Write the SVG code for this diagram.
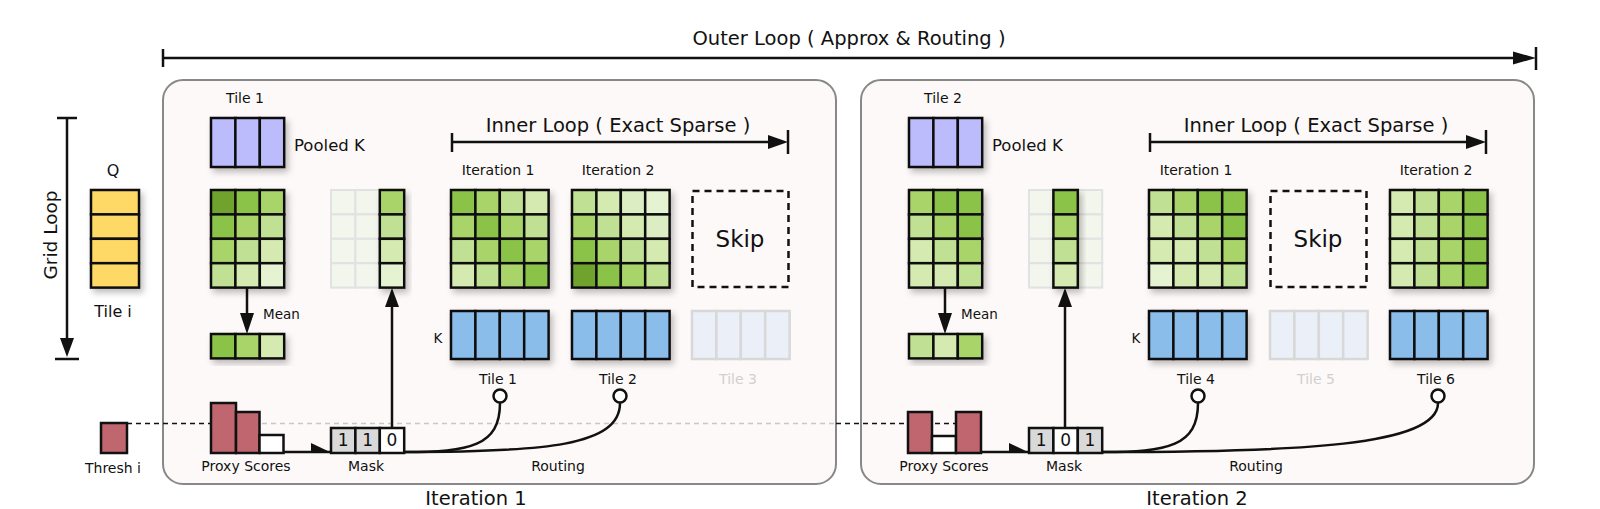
<svg xmlns="http://www.w3.org/2000/svg" width="1600" height="509" viewBox="0 0 1600 509">
<defs>
<filter id="sh" x="-20%" y="-20%" width="150%" height="150%"><feDropShadow dx="3" dy="4" stdDeviation="3" flood-color="#000" flood-opacity="0.25"/></filter>
<style>
.t{font-family:"DejaVu Sans",Verdana,sans-serif;fill:#111}
.big{font-size:19.5px}
.sm{font-size:14px}
.c rect{stroke:#111;stroke-width:2.5}
.g0{fill:#e6f3d3}.g1{fill:#d4eab0}.g2{fill:#c0e093}.g3{fill:#a8d46a}.g4{fill:#8bc34a}.g5{fill:#6fa32d}
.blue{fill:#8bbdeb}.lav{fill:#bcbcfc}.yel{fill:#ffd966}.red{fill:#c0666f}
.fd rect{fill:#f3f6ec;stroke:#e2e2e2;stroke-width:2}
.fk rect{fill:#ebf0f8;stroke:#d8d8d8;stroke-width:2.5}
.ln{stroke:#111;stroke-width:2.5;fill:none}
.panel{fill:#fdf9f8;stroke:#888;stroke-width:2}
</style>
</defs>
<rect width="1600" height="509" fill="#fff"/>

<!-- panels -->
<g id="panel1"><rect class="panel" x="163" y="80" width="673" height="404" rx="20"/></g>
<g id="panel2"><rect class="panel" x="861" y="80" width="673" height="404" rx="20"/></g>

<!-- titles -->
<g id="outer-loop">
<text class="t big" x="849" y="45" text-anchor="middle">Outer Loop ( Approx &amp; Routing )</text>
</g>
<g id="grid-loop">
<text class="t" font-size="18.5" transform="translate(57,235) rotate(-90)" text-anchor="middle">Grid Loop</text>
</g>

<!-- connectors -->
<g id="connectors">
<!-- outer loop -->
<line class="ln" x1="163" y1="58" x2="1520" y2="58"/>
<line class="ln" x1="163" y1="49" x2="163" y2="67"/>
<line class="ln" x1="1536" y1="47" x2="1536" y2="70"/>
<polygon points="1513,51.5 1536,58 1513,64.5" fill="#111"/>
<!-- grid loop -->
<line class="ln" x1="67" y1="118" x2="67" y2="342"/>
<line class="ln" x1="57" y1="118" x2="77" y2="118"/>
<line class="ln" x1="55" y1="359" x2="79" y2="359"/>
<polygon points="60,338 74,338 67,357" fill="#111"/>
<!-- inner loops -->
<g id="inner1">
<line class="ln" x1="452" y1="142" x2="772" y2="142"/>
<line class="ln" x1="452" y1="133" x2="452" y2="152"/>
<line class="ln" x1="788" y1="130" x2="788" y2="154"/>
<polygon points="768,135 788,142 768,149" fill="#111"/>
</g>
<g id="inner2" transform="translate(698,0)">
<line class="ln" x1="452" y1="142" x2="772" y2="142"/>
<line class="ln" x1="452" y1="133" x2="452" y2="152"/>
<line class="ln" x1="788" y1="130" x2="788" y2="154"/>
<polygon points="768,135 788,142 768,149" fill="#111"/>
</g>
<!-- threshold dashed lines -->
<line x1="127" y1="423.5" x2="259" y2="423.5" stroke="#111" stroke-width="1.5" stroke-dasharray="5,4"/>
<line x1="262" y1="423.5" x2="836" y2="423.5" stroke="#c8c8c8" stroke-width="1.5" stroke-dasharray="5,4"/>
<line x1="836" y1="423.5" x2="957" y2="423.5" stroke="#111" stroke-width="1.5" stroke-dasharray="5,4"/>
<!-- panel connectors -->
<g id="conn1">
<line class="ln" x1="247" y1="287" x2="247" y2="318"/>
<polygon points="240,313 254,313 247,334" fill="#111"/>
<line class="ln" x1="392" y1="428" x2="392" y2="302"/>
<polygon points="385,307 399,307 392,288" fill="#111"/>
<line class="ln" x1="283" y1="452" x2="331" y2="452"/>
<polygon points="311,443 331,452.5 311,452.5" fill="#111"/>
<path class="ln" d="M404,452 C470,452 500,446 500,403"/>
<path class="ln" d="M404,452 C545,452 620,446 620,403"/>
<circle cx="500" cy="396" r="6.5" fill="#fff" stroke="#111" stroke-width="2.5"/>
<circle cx="620" cy="396" r="6.5" fill="#fff" stroke="#111" stroke-width="2.5"/>
</g>
<g id="conn2" transform="translate(698,0)">
<line class="ln" x1="247" y1="287" x2="247" y2="318"/>
<polygon points="240,313 254,313 247,334" fill="#111"/>
<line class="ln" x1="367" y1="428" x2="367" y2="302"/>
<polygon points="360,307 374,307 367,288" fill="#111"/>
<line class="ln" x1="283" y1="452" x2="331" y2="452"/>
<polygon points="311,443 331,452.5 311,452.5" fill="#111"/>
<path class="ln" d="M404,452 C470,452 500,446 500,403"/>
<path class="ln" d="M404,452 C600,452 740,446 740,403"/>
<circle cx="500" cy="396" r="6.5" fill="#fff" stroke="#111" stroke-width="2.5"/>
<circle cx="740" cy="396" r="6.5" fill="#fff" stroke="#111" stroke-width="2.5"/>
</g>
</g>

<!-- left column -->
<g id="q-tile">
<text class="t" font-size="16" x="113" y="176" text-anchor="middle">Q</text>
<g class="c" filter="url(#sh)">
<rect class="yel" x="91" y="190" width="48" height="24.4"/>
<rect class="yel" x="91" y="214.4" width="48" height="24.4"/>
<rect class="yel" x="91" y="238.8" width="48" height="24.4"/>
<rect class="yel" x="91" y="263.2" width="48" height="24.4"/>
</g>
<text class="t" font-size="16" x="113" y="317" text-anchor="middle">Tile i</text>
</g>
<g id="thresh">
<rect class="red" x="101" y="423" width="26" height="30" stroke="#111" stroke-width="2.5"/>
<text class="t sm" x="113" y="473" text-anchor="middle">Thresh i</text>
</g>

<!-- ============ PANEL 1 ============ -->
<g id="p1-pooled">
<text class="t sm" x="245" y="103" text-anchor="middle">Tile 1</text>
<g class="c" filter="url(#sh)">
<rect class="lav" x="211" y="118" width="24.4" height="49"/>
<rect class="lav" x="235.4" y="118" width="24.4" height="49"/>
<rect class="lav" x="259.8" y="118" width="24.4" height="49"/>
</g>
<text class="t" font-size="16.5" x="294" y="151">Pooled K</text>
</g>
<g id="p1-scores" class="c" filter="url(#sh)" transform="translate(211,190)">
<rect class="g5" x="0" y="0" width="24.4" height="24.4"/><rect class="g4" x="24.4" y="0" width="24.4" height="24.4"/><rect class="g3" x="48.8" y="0" width="24.4" height="24.4"/>
<rect class="g4" x="0" y="24.4" width="24.4" height="24.4"/><rect class="g3" x="24.4" y="24.4" width="24.4" height="24.4"/><rect class="g2" x="48.8" y="24.4" width="24.4" height="24.4"/>
<rect class="g3" x="0" y="48.8" width="24.4" height="24.4"/><rect class="g2" x="24.4" y="48.8" width="24.4" height="24.4"/><rect class="g1" x="48.8" y="48.8" width="24.4" height="24.4"/>
<rect class="g2" x="0" y="73.2" width="24.4" height="24.4"/><rect class="g1" x="24.4" y="73.2" width="24.4" height="24.4"/><rect class="g0" x="48.8" y="73.2" width="24.4" height="24.4"/>
</g>
<g id="p1-mean">
<g class="c" filter="url(#sh)" transform="translate(211,334)">
<rect class="g4" x="0" y="0" width="24.4" height="24.4"/><rect class="g3" x="24.4" y="0" width="24.4" height="24.4"/><rect class="g1" x="48.8" y="0" width="24.4" height="24.4"/>
</g>
<text class="t" font-size="13.5" x="263" y="319">Mean</text>
</g>
<g id="p1-selected" transform="translate(331,190)">
<g class="fd">
<rect x="0" y="0" width="24.4" height="24.4"/><rect x="24.4" y="0" width="24.4" height="24.4"/>
<rect x="0" y="24.4" width="24.4" height="24.4"/><rect x="24.4" y="24.4" width="24.4" height="24.4"/>
<rect x="0" y="48.8" width="24.4" height="24.4"/><rect x="24.4" y="48.8" width="24.4" height="24.4"/>
<rect x="0" y="73.2" width="24.4" height="24.4"/><rect x="24.4" y="73.2" width="24.4" height="24.4"/>
</g>
<g class="c" filter="url(#sh)">
<rect class="g3" x="48.8" y="0" width="24.4" height="24.4"/><rect class="g2" x="48.8" y="24.4" width="24.4" height="24.4"/><rect class="g1" x="48.8" y="48.8" width="24.4" height="24.4"/><rect class="g0" x="48.8" y="73.2" width="24.4" height="24.4"/>
</g>
</g>
<g id="p1-proxy">
<g class="c">
<rect class="red" x="211" y="403" width="25" height="50"/>
<rect class="red" x="236" y="412" width="23.5" height="41"/>
<rect fill="#fff" x="259.5" y="435" width="24" height="18"/>
</g>
<text class="t sm" x="246" y="471" text-anchor="middle">Proxy Scores</text>
</g>
<g id="p1-mask">
<g class="c">
<rect fill="#d9d9d9" x="331" y="428" width="24.4" height="25"/>
<rect fill="#d9d9d9" x="355.4" y="428" width="24.4" height="25"/>
<rect fill="#fff" x="379.8" y="428" width="24.4" height="25"/>
</g>
<text class="t" font-size="17" x="343.2" y="446" text-anchor="middle">1</text>
<text class="t" font-size="17" x="367.6" y="446" text-anchor="middle">1</text>
<text class="t" font-size="17" x="392" y="446" text-anchor="middle">0</text>
<text class="t sm" x="366" y="471" text-anchor="middle">Mask</text>
</g>
<text class="t sm" x="558" y="471" text-anchor="middle">Routing</text>
<text class="t big" x="476" y="505" text-anchor="middle">Iteration 1</text>
<text class="t big" x="618" y="132" text-anchor="middle">Inner Loop ( Exact Sparse )</text>

<g id="p1-iter1">
<text class="t sm" x="498" y="175" text-anchor="middle">Iteration 1</text>
<g class="c" filter="url(#sh)" transform="translate(451,190)">
<rect class="g4" x="0" y="0" width="24.4" height="24.4"/><rect class="g3" x="24.4" y="0" width="24.4" height="24.4"/><rect class="g2" x="48.8" y="0" width="24.4" height="24.4"/><rect class="g1" x="73.2" y="0" width="24.4" height="24.4"/>
<rect class="g3" x="0" y="24.4" width="24.4" height="24.4"/><rect class="g4" x="24.4" y="24.4" width="24.4" height="24.4"/><rect class="g3" x="48.8" y="24.4" width="24.4" height="24.4"/><rect class="g2" x="73.2" y="24.4" width="24.4" height="24.4"/>
<rect class="g2" x="0" y="48.8" width="24.4" height="24.4"/><rect class="g3" x="24.4" y="48.8" width="24.4" height="24.4"/><rect class="g4" x="48.8" y="48.8" width="24.4" height="24.4"/><rect class="g3" x="73.2" y="48.8" width="24.4" height="24.4"/>
<rect class="g1" x="0" y="73.2" width="24.4" height="24.4"/><rect class="g2" x="24.4" y="73.2" width="24.4" height="24.4"/><rect class="g3" x="48.8" y="73.2" width="24.4" height="24.4"/><rect class="g4" x="73.2" y="73.2" width="24.4" height="24.4"/>
</g>
</g>
<g id="p1-iter2">
<text class="t sm" x="618" y="175" text-anchor="middle">Iteration 2</text>
<g class="c" filter="url(#sh)" transform="translate(572,190)">
<rect class="g2" x="0" y="0" width="24.4" height="24.4"/><rect class="g1" x="24.4" y="0" width="24.4" height="24.4"/><rect fill="#dcedc3" x="48.8" y="0" width="24.4" height="24.4"/><rect class="g0" x="73.2" y="0" width="24.4" height="24.4"/>
<rect class="g3" x="0" y="24.4" width="24.4" height="24.4"/><rect class="g2" x="24.4" y="24.4" width="24.4" height="24.4"/><rect class="g1" x="48.8" y="24.4" width="24.4" height="24.4"/><rect fill="#dcedc3" x="73.2" y="24.4" width="24.4" height="24.4"/>
<rect class="g4" x="0" y="48.8" width="24.4" height="24.4"/><rect class="g3" x="24.4" y="48.8" width="24.4" height="24.4"/><rect class="g2" x="48.8" y="48.8" width="24.4" height="24.4"/><rect class="g1" x="73.2" y="48.8" width="24.4" height="24.4"/>
<rect class="g5" x="0" y="73.2" width="24.4" height="24.4"/><rect class="g4" x="24.4" y="73.2" width="24.4" height="24.4"/><rect class="g3" x="48.8" y="73.2" width="24.4" height="24.4"/><rect class="g2" x="73.2" y="73.2" width="24.4" height="24.4"/>
</g>
</g>
<g id="p1-skip">
<rect x="692.5" y="191" width="96" height="96" fill="none" stroke="#111" stroke-width="2.5" stroke-dasharray="7,5"/>
<text class="t" font-size="23" x="740" y="247" text-anchor="middle">Skip</text>
</g>
<g id="p1-k1">
<text class="t" font-size="13.5" x="438" y="343" text-anchor="middle">K</text>
<g class="c" filter="url(#sh)" transform="translate(451,311)">
<rect class="blue" x="0" y="0" width="24.4" height="48"/><rect class="blue" x="24.4" y="0" width="24.4" height="48"/><rect class="blue" x="48.8" y="0" width="24.4" height="48"/><rect class="blue" x="73.2" y="0" width="24.4" height="48"/>
</g>
<text class="t sm" x="498" y="384" text-anchor="middle">Tile 1</text>
</g>
<g id="p1-k2">
<g class="c" filter="url(#sh)" transform="translate(572,311)">
<rect class="blue" x="0" y="0" width="24.4" height="48"/><rect class="blue" x="24.4" y="0" width="24.4" height="48"/><rect class="blue" x="48.8" y="0" width="24.4" height="48"/><rect class="blue" x="73.2" y="0" width="24.4" height="48"/>
</g>
<text class="t sm" x="618" y="384" text-anchor="middle">Tile 2</text>
</g>
<g id="p1-k3">
<g class="fk" transform="translate(692,311)">
<rect x="0" y="0" width="24.4" height="48"/><rect x="24.4" y="0" width="24.4" height="48"/><rect x="48.8" y="0" width="24.4" height="48"/><rect x="73.2" y="0" width="24.4" height="48"/>
</g>
<text class="t sm" x="738" y="384" text-anchor="middle" style="fill:#d0d0d0">Tile 3</text>
</g>

<!-- ============ PANEL 2 ============ -->
<g id="p2-pooled" transform="translate(698,0)">
<text class="t sm" x="245" y="103" text-anchor="middle">Tile 2</text>
<g class="c" filter="url(#sh)">
<rect class="lav" x="211" y="118" width="24.4" height="49"/>
<rect class="lav" x="235.4" y="118" width="24.4" height="49"/>
<rect class="lav" x="259.8" y="118" width="24.4" height="49"/>
</g>
<text class="t" font-size="16.5" x="294" y="151">Pooled K</text>
</g>
<g id="p2-scores" class="c" filter="url(#sh)" transform="translate(909,190)">
<rect class="g3" x="0" y="0" width="24.4" height="24.4"/><rect class="g4" x="24.4" y="0" width="24.4" height="24.4"/><rect class="g4" x="48.8" y="0" width="24.4" height="24.4"/>
<rect class="g2" x="0" y="24.4" width="24.4" height="24.4"/><rect class="g3" x="24.4" y="24.4" width="24.4" height="24.4"/><rect class="g4" x="48.8" y="24.4" width="24.4" height="24.4"/>
<rect class="g1" x="0" y="48.8" width="24.4" height="24.4"/><rect class="g2" x="24.4" y="48.8" width="24.4" height="24.4"/><rect class="g3" x="48.8" y="48.8" width="24.4" height="24.4"/>
<rect class="g1" x="0" y="73.2" width="24.4" height="24.4"/><rect class="g1" x="24.4" y="73.2" width="24.4" height="24.4"/><rect class="g2" x="48.8" y="73.2" width="24.4" height="24.4"/>
</g>
<g id="p2-mean" transform="translate(698,0)">
<g class="c" filter="url(#sh)" transform="translate(211,334)">
<rect class="g2" x="0" y="0" width="24.4" height="24.4"/><rect class="g1" x="24.4" y="0" width="24.4" height="24.4"/><rect class="g3" x="48.8" y="0" width="24.4" height="24.4"/>
</g>
<text class="t" font-size="13.5" x="263" y="319">Mean</text>
</g>
<g id="p2-selected" transform="translate(1029,190)">
<g class="fd">
<rect x="0" y="0" width="24.4" height="24.4"/><rect x="48.8" y="0" width="24.4" height="24.4"/>
<rect x="0" y="24.4" width="24.4" height="24.4"/><rect x="48.8" y="24.4" width="24.4" height="24.4"/>
<rect x="0" y="48.8" width="24.4" height="24.4"/><rect x="48.8" y="48.8" width="24.4" height="24.4"/>
<rect x="0" y="73.2" width="24.4" height="24.4"/><rect x="48.8" y="73.2" width="24.4" height="24.4"/>
</g>
<g class="c" filter="url(#sh)">
<rect class="g4" x="24.4" y="0" width="24.4" height="24.4"/><rect class="g3" x="24.4" y="24.4" width="24.4" height="24.4"/><rect class="g2" x="24.4" y="48.8" width="24.4" height="24.4"/><rect class="g1" x="24.4" y="73.2" width="24.4" height="24.4"/>
</g>
</g>
<g id="p2-proxy" transform="translate(698,0)">
<g class="c">
<rect class="red" x="210" y="412" width="24" height="41"/>
<rect fill="#fff" x="234" y="436" width="24" height="17"/>
<rect class="red" x="258" y="412" width="25" height="41"/>
</g>
<text class="t sm" x="246" y="471" text-anchor="middle">Proxy Scores</text>
</g>
<g id="p2-mask" transform="translate(698,0)">
<g class="c">
<rect fill="#d9d9d9" x="331" y="428" width="24.4" height="25"/>
<rect fill="#fff" x="355.4" y="428" width="24.4" height="25"/>
<rect fill="#d9d9d9" x="379.8" y="428" width="24.4" height="25"/>
</g>
<text class="t" font-size="17" x="343.2" y="446" text-anchor="middle">1</text>
<text class="t" font-size="17" x="367.6" y="446" text-anchor="middle">0</text>
<text class="t" font-size="17" x="392" y="446" text-anchor="middle">1</text>
<text class="t sm" x="366" y="471" text-anchor="middle">Mask</text>
</g>
<text class="t sm" x="1256" y="471" text-anchor="middle">Routing</text>
<text class="t big" x="1197" y="505" text-anchor="middle">Iteration 2</text>
<text class="t big" x="1316" y="132" text-anchor="middle">Inner Loop ( Exact Sparse )</text>

<g id="p2-iter1">
<text class="t sm" x="1196" y="175" text-anchor="middle">Iteration 1</text>
<g class="c" filter="url(#sh)" transform="translate(1149,190)">
<rect class="g2" x="0" y="0" width="24.4" height="24.4"/><rect class="g3" x="24.4" y="0" width="24.4" height="24.4"/><rect class="g4" x="48.8" y="0" width="24.4" height="24.4"/><rect class="g4" x="73.2" y="0" width="24.4" height="24.4"/>
<rect class="g1" x="0" y="24.4" width="24.4" height="24.4"/><rect class="g2" x="24.4" y="24.4" width="24.4" height="24.4"/><rect class="g3" x="48.8" y="24.4" width="24.4" height="24.4"/><rect class="g4" x="73.2" y="24.4" width="24.4" height="24.4"/>
<rect class="g1" x="0" y="48.8" width="24.4" height="24.4"/><rect class="g1" x="24.4" y="48.8" width="24.4" height="24.4"/><rect class="g2" x="48.8" y="48.8" width="24.4" height="24.4"/><rect class="g3" x="73.2" y="48.8" width="24.4" height="24.4"/>
<rect class="g0" x="0" y="73.2" width="24.4" height="24.4"/><rect class="g1" x="24.4" y="73.2" width="24.4" height="24.4"/><rect class="g1" x="48.8" y="73.2" width="24.4" height="24.4"/><rect class="g2" x="73.2" y="73.2" width="24.4" height="24.4"/>
</g>
</g>
<g id="p2-skip">
<rect x="1270.5" y="191" width="96" height="96" fill="none" stroke="#111" stroke-width="2.5" stroke-dasharray="7,5"/>
<text class="t" font-size="23" x="1318" y="247" text-anchor="middle">Skip</text>
</g>
<g id="p2-iter2">
<text class="t sm" x="1436" y="175" text-anchor="middle">Iteration 2</text>
<g class="c" filter="url(#sh)" transform="translate(1390,190)">
<rect class="g1" x="0" y="0" width="24.4" height="24.4"/><rect class="g2" x="24.4" y="0" width="24.4" height="24.4"/><rect class="g3" x="48.8" y="0" width="24.4" height="24.4"/><rect class="g4" x="73.2" y="0" width="24.4" height="24.4"/>
<rect class="g1" x="0" y="24.4" width="24.4" height="24.4"/><rect class="g2" x="24.4" y="24.4" width="24.4" height="24.4"/><rect class="g3" x="48.8" y="24.4" width="24.4" height="24.4"/><rect class="g4" x="73.2" y="24.4" width="24.4" height="24.4"/>
<rect class="g1" x="0" y="48.8" width="24.4" height="24.4"/><rect class="g2" x="24.4" y="48.8" width="24.4" height="24.4"/><rect class="g3" x="48.8" y="48.8" width="24.4" height="24.4"/><rect class="g4" x="73.2" y="48.8" width="24.4" height="24.4"/>
<rect class="g1" x="0" y="73.2" width="24.4" height="24.4"/><rect class="g2" x="24.4" y="73.2" width="24.4" height="24.4"/><rect class="g3" x="48.8" y="73.2" width="24.4" height="24.4"/><rect class="g4" x="73.2" y="73.2" width="24.4" height="24.4"/>
</g>
</g>
<g id="p2-k4">
<text class="t" font-size="13.5" x="1136" y="343" text-anchor="middle">K</text>
<g class="c" filter="url(#sh)" transform="translate(1149,311)">
<rect class="blue" x="0" y="0" width="24.4" height="48"/><rect class="blue" x="24.4" y="0" width="24.4" height="48"/><rect class="blue" x="48.8" y="0" width="24.4" height="48"/><rect class="blue" x="73.2" y="0" width="24.4" height="48"/>
</g>
<text class="t sm" x="1196" y="384" text-anchor="middle">Tile 4</text>
</g>
<g id="p2-k5">
<g class="fk" transform="translate(1270,311)">
<rect x="0" y="0" width="24.4" height="48"/><rect x="24.4" y="0" width="24.4" height="48"/><rect x="48.8" y="0" width="24.4" height="48"/><rect x="73.2" y="0" width="24.4" height="48"/>
</g>
<text class="t sm" x="1316" y="384" text-anchor="middle" style="fill:#d0d0d0">Tile 5</text>
</g>
<g id="p2-k6">
<g class="c" filter="url(#sh)" transform="translate(1390,311)">
<rect class="blue" x="0" y="0" width="24.4" height="48"/><rect class="blue" x="24.4" y="0" width="24.4" height="48"/><rect class="blue" x="48.8" y="0" width="24.4" height="48"/><rect class="blue" x="73.2" y="0" width="24.4" height="48"/>
</g>
<text class="t sm" x="1436" y="384" text-anchor="middle">Tile 6</text>
</g>
</svg>
